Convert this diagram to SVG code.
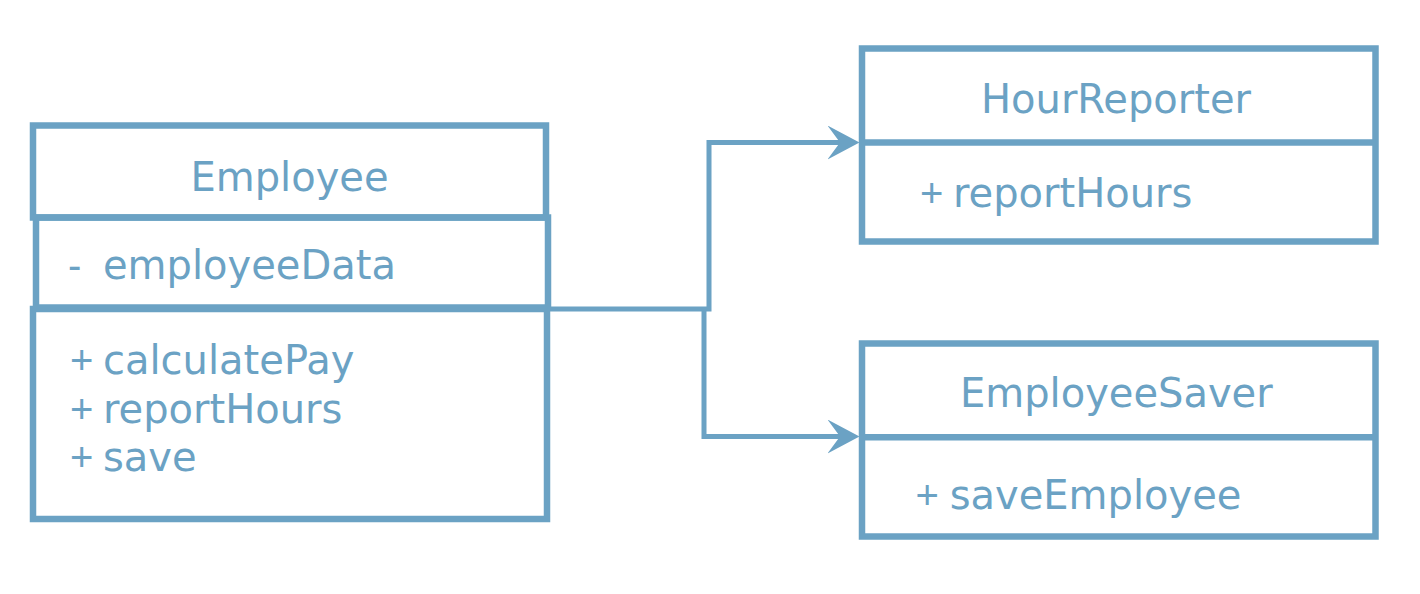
<svg xmlns="http://www.w3.org/2000/svg" width="1420" height="594" viewBox="0 0 1420 594">
  <style>
    .box { fill: none; stroke: #6ba2c4; stroke-width: 6.5; }
    .conn { fill: none; stroke: #6ba2c4; stroke-width: 5; }
    .t { font-family: "DejaVu Sans", "Noto Sans", sans-serif; font-size: 40px; fill: #6ba2c4; }
    .title { text-anchor: middle; }
    .sym { font-family: "Liberation Sans", Arial, sans-serif; }
  </style>
  <defs>
    <marker id="arrow" markerUnits="userSpaceOnUse" viewBox="0 0 32 34" markerWidth="32" markerHeight="34" refX="17.5" refY="17" orient="auto">
      <path d="M0,0 L32,17 L0,34 L12.5,17 Z" fill="#6ba2c4"/>
    </marker>
  </defs>
  <rect x="0" y="0" width="1420" height="594" fill="#ffffff"/>

  <g id="connectors">
    <path class="conn" d="M549,309 H709 V142.5 H845" marker-end="url(#arrow)"/>
    <path class="conn" d="M704,309 V436.5 H845" marker-end="url(#arrow)"/>
  </g>

  <g id="employee">
    <rect class="box" x="33" y="125.5" width="513" height="92"/>
    <rect class="box" x="36" y="217.5" width="512" height="90"/>
    <rect class="box" x="33" y="309" width="514" height="210"/>
    <text class="t title" x="289.5" y="191">Employee</text>
    <text class="t" y="279"><tspan class="sym" x="68">- </tspan><tspan x="103">employeeData</tspan></text>
    <text class="t" y="374"><tspan class="sym" x="70">+ </tspan><tspan x="103">calculatePay</tspan></text>
    <text class="t" y="422.5"><tspan class="sym" x="70">+ </tspan><tspan x="103">reportHours</tspan></text>
    <text class="t" y="471"><tspan class="sym" x="70">+ </tspan><tspan x="103">save</tspan></text>
  </g>

  <g id="hourReporter">
    <rect class="box" x="862" y="48.5" width="513.5" height="193"/>
    <line class="box" x1="862" y1="142.5" x2="1375.5" y2="142.5"/>
    <text class="t title" x="1116" y="113.3">HourReporter</text>
    <text class="t" y="207"><tspan class="sym" x="920">+ </tspan><tspan x="953">reportHours</tspan></text>
  </g>

  <g id="employeeSaver">
    <rect class="box" x="862" y="343.5" width="513.5" height="193"/>
    <line class="box" x1="862" y1="437.3" x2="1375.5" y2="437.3"/>
    <text class="t title" x="1116.3" y="406.7">EmployeeSaver</text>
    <text class="t" y="509"><tspan class="sym" x="915.5">+ </tspan><tspan x="949.7">saveEmployee</tspan></text>
  </g>
</svg>
